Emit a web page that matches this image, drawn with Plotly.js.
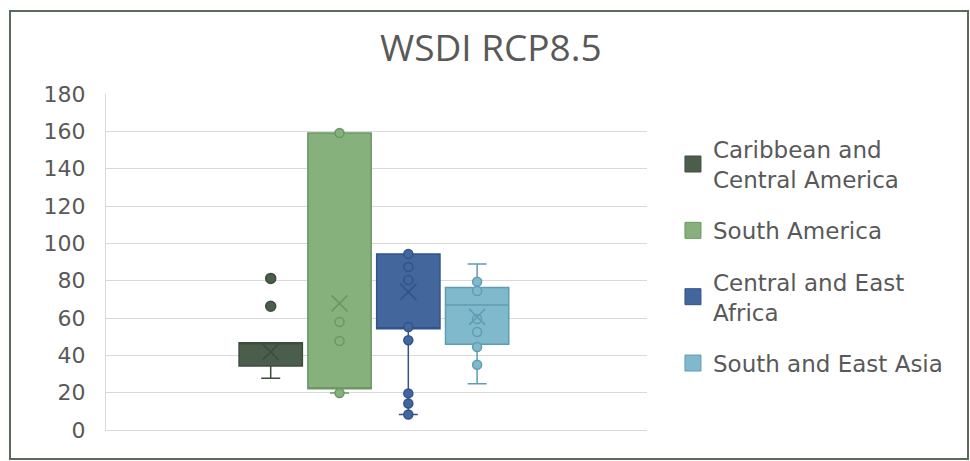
<!DOCTYPE html>
<html>
<head>
<meta charset="utf-8">
<script src="https://cdn.plot.ly/plotly-3.0.1.min.js"></script>
<style>
  html, body { margin: 0; padding: 0; background: #ffffff; }
  #wrap { position: relative; width: 970px; height: 461px; }
  #chart { position: absolute; left: 0; top: 0; width: 970px; height: 461px; }
  #frame { position: absolute; left: 9px; top: 10px; width: 960px; height: 450px;
           border: 2px solid #5b6b5b; box-sizing: border-box; pointer-events: none; }
</style>
</head>
<body>
<div id="wrap"><div id="chart"></div><div id="frame"></div></div>
<script>
// ---- data ----
const categories = ['Caribbean and Central America', 'South America', 'Central and East Africa', 'South and East Asia'];
const legendLabels = ['Caribbean and<br>Central America', 'South America', 'Central and East<br>Africa', 'South and East Asia'];
const lowerWhisker = [27.7, 19.8, 8.3, 24.8];
const q1 = [34.3, 22.1, 54.2, 45.9];
const median = [46.6, 22.1, 54.2, 66.9];
const q3 = [46.8, 159.1, 94.3, 76.4];
const upperWhisker = [46.8, 159.1, 94.3, 88.9];
const means = [41.8, 67.8, 74.0, 60.6];
const pointsCaribbean = [81.2, 66.3];
const pointsSouthAmerica = [159.1, 57.9, 47.7, 19.8];
const pointsAfrica = [94.3, 87.3, 80.3, 55.2, 48.1, 19.6, 14.2, 8.3];
const pointsAsia = [79.4, 74.4, 59.5, 52.5, 44.5, 35.0];
const yTicks = [0, 20, 40, 60, 80, 100, 120, 140, 160, 180];

// ---- styles ----
const fillColors = ['#4b5e4c', '#87b17c', '#43669c', '#80b9cc'];
const lineColors = ['#3c4d3d', '#6c9762', '#31548a', '#5f9db3'];
const pointSets = [pointsCaribbean, pointsSouthAmerica, pointsAfrica, pointsAsia];
const FONT = 'Open Sans, Noto Sans, sans-serif';
const WIDE = 'DejaVu Sans, Open Sans, sans-serif';
const TEXT = '#595959';

const traces = [];
categories.forEach((c, i) => {
  traces.push({
    type: 'box', name: c, x: [i],
    q1: [q1[i]], median: [median[i]], q3: [q3[i]],
    lowerfence: [lowerWhisker[i]], upperfence: [upperWhisker[i]],
    width: 0.92, whiskerwidth: 0.3, boxpoints: false,
    fillcolor: fillColors[i], line: { color: lineColors[i], width: 1.5 },
    showlegend: false, hoverinfo: 'skip'
  });
});
categories.forEach((c, i) => {
  const pts = pointSets[i];
  traces.push({
    type: 'scatter', mode: 'markers', name: c,
    x: pts.map(() => i), y: pts,
    marker: { symbol: 'circle', size: i === 0 ? 10 : 9, color: fillColors[i],
              line: { color: lineColors[i], width: 1.5 } },
    showlegend: false, hoverinfo: 'y'
  });
  traces.push({
    type: 'scatter', mode: 'markers', name: c + ' mean',
    x: [i], y: [means[i]],
    marker: { symbol: 'x-thin-open', size: 16, color: lineColors[i],
              line: { color: lineColors[i], width: 1.6 } },
    showlegend: false, hoverinfo: 'y'
  });
});
// legend entries
categories.forEach((c, i) => {
  traces.push({
    type: 'scatter', mode: 'markers', name: legendLabels[i],
    x: [null], y: [null], legendgroup: 'g' + i,
    marker: { symbol: 'square', size: 16, color: fillColors[i],
              line: { color: lineColors[i], width: 1 } },
    showlegend: true
  });
});

const layout = {
  width: 970, height: 461,
  margin: { l: 106, r: 323, t: 94, b: 31 },
  paper_bgcolor: '#ffffff', plot_bgcolor: '#ffffff',
  title: { text: 'WSDI RCP8.5', font: { family: FONT, size: 37, color: TEXT },
           x: 0.506, xref: 'container', xanchor: 'center',
           y: 1 - 48 / 461, yref: 'container', yanchor: 'middle' },
  xaxis: { range: [-2.394, 5.469], showgrid: false, zeroline: false,
           showticklabels: false, ticks: '', showline: true, linecolor: '#d9d9d9', linewidth: 1 },
  yaxis: { range: [0, 180], tickvals: yTicks, ticktext: yTicks.map(String),
           showgrid: true, gridcolor: '#d9d9d9', gridwidth: 1,
           zeroline: false, showline: true, linecolor: '#d9d9d9', linewidth: 1,
           ticks: '', ticklabelstandoff: 15,
           tickfont: { family: WIDE, size: 22, color: TEXT } },
  showlegend: true,
  legend: { x: 1.048, xanchor: 'left', y: 0.90, yanchor: 'top',
            font: { family: WIDE, size: 23, color: TEXT },
            tracegroupgap: 18.5, bgcolor: 'rgba(0,0,0,0)', borderwidth: 0,
            itemsizing: 'trace' },
  hovermode: 'closest'
};

Plotly.newPlot('chart', traces, layout, { displayModeBar: false, staticPlot: false });
</script>
</body>
</html>
